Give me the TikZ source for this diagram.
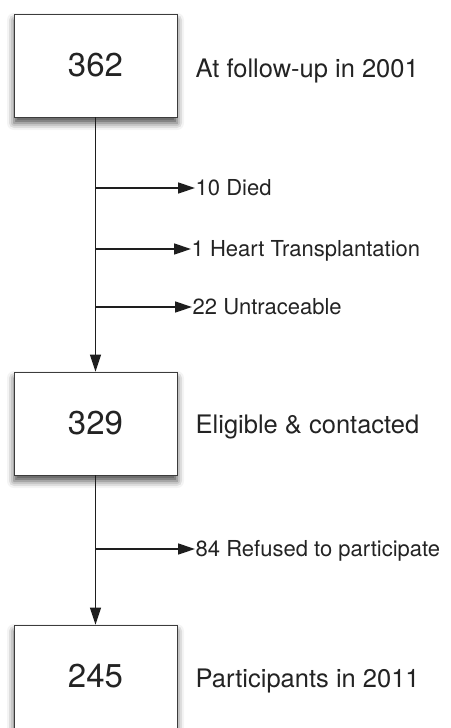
\documentclass[tikz,border=0pt]{standalone}
\usepackage{fontspec}
\setmainfont{TeX Gyre Heros}
\usetikzlibrary{arrows.meta,shadows.blur}
\definecolor{box_gray}{RGB}{60,60,60}
\definecolor{line_gray}{RGB}{30,30,30}
\definecolor{text_gray}{RGB}{35,35,35}

\begin{document}
\begin{tikzpicture}[->,line width=1.4pt,draw=line_gray,>={Triangle[length=17pt,width=11pt]},x=1pt,y=-1pt]
    \tikzstyle{box}=[draw=box_gray, line width=0.8pt, fill=white, rectangle, minimum width=163pt, minimum height=103pt, inner sep=0pt, font=\fontsize{33}{33}\selectfont, text=text_gray, blur shadow={shadow xshift=0pt, shadow yshift=-6pt, shadow blur radius=7pt, shadow opacity=70}]
    \tikzstyle{tag}=[anchor=base west, inner sep=0pt, font=\fontsize{25.5}{25.5}\selectfont, text=text_gray]
    \tikzstyle{exitlabel}=[anchor=west, inner sep=0pt, text height=15.8pt, text depth=0pt, font=\fontsize{22}{22}\selectfont, text=text_gray]

    \useasboundingbox (0,0) rectangle (450,728);

    \node[box] (a) at (95.5,65.5)  {362};
    \node[box] (b) at (95.5,423.5) {329};
    \node[box] (c) at (95.5,676.5) {245};

    \node[tag] (ta) at (195,77)  {At follow-up in 2001};
    \node[tag] (tb) at (195,433) {Eligible \& contacted};
    \node[tag] (tc) at (195,687) {Participants in 2011};

    \node[exitlabel] (d1) at (195,188) {10 Died};
    \node[exitlabel] (d2) at (191,249) {1 Heart Transplantation};
    \node[exitlabel] (d3) at (192,307) {22 Untraceable};
    \node[exitlabel] (d4) at (195,549) {84 Refused to participate};

    \path
     (a) edge (b)
     (b) edge (c)
     (a.south |- d1.west) edge (d1.west)
     (a.south |- d2.west) edge (d2.west)
     (a.south |- d3.west) edge (d3.west)
     (b.south |- d4.west) edge (d4.west)
     ;
\end{tikzpicture}
\end{document}
